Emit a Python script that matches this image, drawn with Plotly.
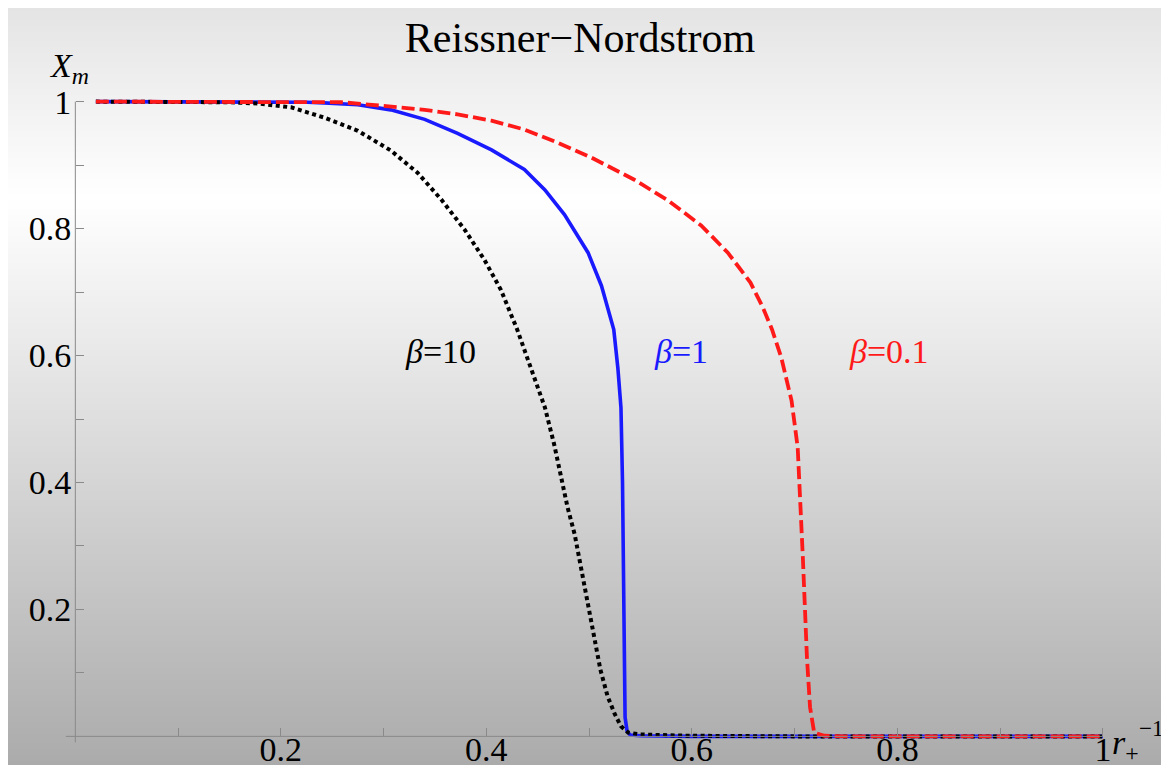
import plotly.graph_objects as go

# ---- data ----
x_b10 = [0.02, 0.10, 0.15, 0.178, 0.21, 0.242, 0.275, 0.307, 0.333, 0.356, 0.379, 0.398, 0.414,
         0.43, 0.443, 0.457, 0.466, 0.473, 0.479, 0.486, 0.491, 0.496, 0.501, 0.506, 0.511, 0.518,
         0.525, 0.531, 0.538, 0.55, 0.564, 0.596, 0.7, 0.85, 1.0]
y_b10 = [1, 1, 0.999, 0.997, 0.991, 0.975, 0.954, 0.923, 0.888, 0.846, 0.798, 0.751, 0.704,
         0.641, 0.581, 0.518, 0.46, 0.405, 0.361, 0.318, 0.277, 0.235, 0.192, 0.15, 0.105, 0.063,
         0.035, 0.016, 0.006, 0.003, 0.002, 0.001, 0, 0, 0]

x_b1 = [0.02, 0.15, 0.226, 0.242, 0.275, 0.307, 0.34, 0.372, 0.405, 0.437, 0.457, 0.476, 0.499,
        0.512, 0.524, 0.528, 0.531, 0.5325, 0.5335, 0.534, 0.535, 0.537, 0.54, 0.55, 0.6, 0.8, 1.0]
y_b1 = [1, 1, 0.999, 0.998, 0.995, 0.987, 0.972, 0.95, 0.924, 0.893, 0.861, 0.822, 0.762,
        0.71, 0.641, 0.58, 0.518, 0.4, 0.25, 0.1, 0.03, 0.008, 0.002, 0.001, 0, 0, 0]

x_b01 = [0.02, 0.2, 0.259, 0.275, 0.307, 0.34, 0.372, 0.405, 0.437, 0.47, 0.502, 0.544, 0.577,
         0.609, 0.635, 0.657, 0.669, 0.678, 0.687, 0.697, 0.703, 0.706, 0.708, 0.71, 0.712, 0.715,
         0.719, 0.729, 0.75, 0.85, 1.0]
y_b01 = [1, 1, 0.999, 0.997, 0.992, 0.987, 0.98, 0.97, 0.956, 0.935, 0.912, 0.877, 0.844,
         0.805, 0.762, 0.715, 0.676, 0.641, 0.597, 0.529, 0.455, 0.361, 0.282, 0.203, 0.124, 0.046,
         0.006, 0.001, 0, 0, 0]

major_ticks = [0.2, 0.4, 0.6, 0.8, 1.0]
major_text = ["0.2", "0.4", "0.6", "0.8", "1"]
minor_ticks = [0.1, 0.3, 0.5, 0.7, 0.9]

labels = ["<i>β</i>=10", "<i>β</i>=1", "<i>β</i>=0.1"]
label_x = [0.355, 0.589, 0.792]
label_y = [0.607, 0.607, 0.607]
colors = ["black", "#1a1aff", "#ff1a1a"]

title = "Reissner\u2212Nordstrom"
y_title = "<i>X</i><sub><i>m</i></sub>"
x_title = "<i>r</i><sub>+</sub>"
x_title_exp = "\u22121"

# ---- layout geometry ----
W, H = 1169, 765
ML, MR, MT, MB = 55, 70, 86, 29
XR = [-0.012, 1.004]
YR = [-0.012, 1.012]
FONT = "Liberation Serif, Times New Roman, serif"
plot_w = W - ML - MR
plot_h = H - MT - MB


def px_x(px):
    return (px - ML) / plot_w


def px_y(py):
    return (H - MB - py) / plot_h


fig = go.Figure()
fig.add_trace(go.Scatter(x=x_b1, y=y_b1, mode="lines",
                         line=dict(color=colors[1], width=3.6), hoverinfo="skip"))
fig.add_trace(go.Scatter(x=x_b10, y=y_b10, mode="lines",
                         line=dict(color=colors[0], width=4, dash="4px,3.5px"), hoverinfo="skip"))
fig.add_trace(go.Scatter(x=x_b01, y=y_b01, mode="lines",
                         line=dict(color=colors[2], width=3.8, dash="13px,5px"), hoverinfo="skip"))

# gradient background (overlapping bands to avoid seams)
shapes = []
STEP = 3
for py in range(0, H, STEP):
    c = py + STEP / 2
    if c < 190:
        v = 228 + 27 * c / 190
    else:
        v = 255 - (c - 190) * 0.148
    v = int(round(max(0, min(255, v))))
    shapes.append(dict(type="rect", xref="paper", yref="paper", x0=-0.1, x1=1.1,
                       y0=px_y(py + STEP + 2), y1=px_y(py), line=dict(width=0),
                       fillcolor=f"rgb({v},{v},{v})", layer="below"))
# axis lines
shapes.append(dict(type="line", xref="x", yref="y", x0=-0.0092, x1=1.0, y0=0, y1=0,
                   line=dict(color="#8a8a8a", width=1), layer="above"))
shapes.append(dict(type="line", xref="x", yref="y", x0=0, x1=0, y0=-0.0095, y1=1.0,
                   line=dict(color="#8a8a8a", width=1), layer="above"))

xpos = (0 - YR[0]) / (YR[1] - YR[0])
ypos = (0 - XR[0]) / (XR[1] - XR[0])


def axis_style(standoff):
    return dict(showgrid=False, zeroline=False, showline=False, automargin=False,
                ticks="inside", ticklen=8, tickwidth=1, tickcolor="#8a8a8a",
                tickvals=major_ticks, ticktext=major_text, ticklabelstandoff=standoff,
                minor=dict(tickvals=minor_ticks, ticks="inside", ticklen=8,
                           tickwidth=1, tickcolor="#8a8a8a", showgrid=False),
                tickfont=dict(family=FONT, size=34, color="black"))


fig.update_layout(
    template="none",
    width=W, height=H, autosize=False,
    margin=dict(l=ML, r=MR, t=MT, b=MB, pad=0, autoexpand=False),
    paper_bgcolor="white", plot_bgcolor="rgba(0,0,0,0)",
    showlegend=False,
    xaxis=dict(range=XR, anchor="free", position=xpos, **axis_style(-10)),
    yaxis=dict(range=YR, anchor="free", position=ypos, **axis_style(4)),
    shapes=shapes,
    title=dict(text=title, x=572 / W, xref="container", xanchor="center",
               y=1 - 29 / H, yref="container", yanchor="middle",
               font=dict(family=FONT, size=42, color="black")),
)

anns = []
for t, lx, ly, c in zip(labels, label_x, label_y, colors):
    anns.append(dict(text=t, x=lx, y=ly, xref="x", yref="y", showarrow=False,
                     xanchor="center", yanchor="middle",
                     font=dict(family=FONT, size=34, color=c)))
anns.append(dict(text=y_title, x=px_x(39), y=px_y(60),
                 xref="paper", yref="paper", showarrow=False, xanchor="left", yanchor="middle",
                 font=dict(family=FONT, size=34, color="black")))
anns.append(dict(text=x_title, x=px_x(1102), y=px_y(737),
                 xref="paper", yref="paper", showarrow=False, xanchor="left", yanchor="middle",
                 font=dict(family=FONT, size=34, color="black")))
anns.append(dict(text=x_title_exp, x=px_x(1129), y=px_y(720),
                 xref="paper", yref="paper", showarrow=False, xanchor="left", yanchor="middle",
                 font=dict(family=FONT, size=23, color="black")))
fig.update_layout(annotations=anns)

fig.write_html("out.html", config={"displayModeBar": False})
